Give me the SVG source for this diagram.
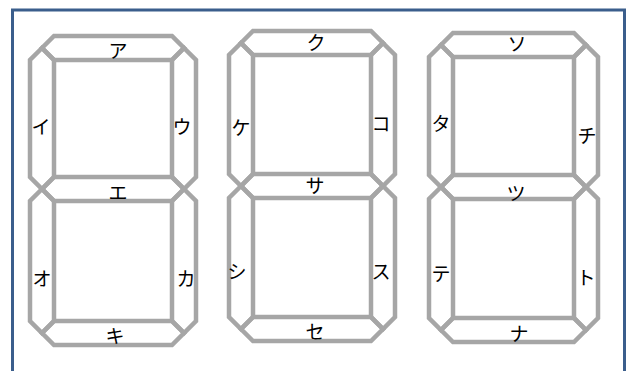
<svg xmlns="http://www.w3.org/2000/svg" width="631" height="371" viewBox="0 0 631 371">
<style>
.seg{fill:none;stroke:#A6A6A6;stroke-width:4.5;stroke-linejoin:miter}
.lbl{font-family:"Noto Sans CJK JP","Noto Sans",sans-serif;font-size:19px;fill:#000;text-anchor:middle;dominant-baseline:central}
.frame{fill:#fff;stroke:#3B5E8C;stroke-width:3}
</style>
<rect x="0" y="0" width="631" height="371" fill="#fff"/>
<rect class="frame" x="12.5" y="10" width="612" height="380"/>
<g id="connectors"></g>
<g id="digit1">
<g id="seg-a1"><polygon class="seg" points="54,36 172,36 184,48 172,60 54,60 42,48"/><text class="lbl" x="118" y="49">ア</text></g>
<g id="seg-f1"><polygon class="seg" points="42,48 30,60 30,177 42,189 54,177 54,60"/><text class="lbl" x="41" y="125">イ</text></g>
<g id="seg-b1"><polygon class="seg" points="184,48 196,60 196,177 184,189 172,177 172,60"/><text class="lbl" x="182" y="125">ウ</text></g>
<g id="seg-g1"><polygon class="seg" points="42,189 54,177 172,177 184,189 172,201 54,201"/><text class="lbl" x="118" y="191">エ</text></g>
<g id="seg-e1"><polygon class="seg" points="42,189 30,201 30,321 42,333 54,321 54,201"/><text class="lbl" x="42" y="277">オ</text></g>
<g id="seg-c1"><polygon class="seg" points="184,189 196,201 196,321 184,333 172,321 172,201"/><text class="lbl" x="186" y="277">カ</text></g>
<g id="seg-d1"><polygon class="seg" points="42,333 54,321 172,321 184,333 172,345 54,345"/><text class="lbl" x="115" y="334">キ</text></g>
</g>
<g id="digit2">
<g id="seg-a2"><polygon class="seg" points="253,31 371,31 383,43 371,55 253,55 241,43"/><text class="lbl" x="316" y="41">ク</text></g>
<g id="seg-f2"><polygon class="seg" points="241,43 229,55 229,174 241,186 253,174 253,55"/><text class="lbl" x="241" y="126">ケ</text></g>
<g id="seg-b2"><polygon class="seg" points="383,43 395,55 395,174 383,186 371,174 371,55"/><text class="lbl" x="381" y="122">コ</text></g>
<g id="seg-g2"><polygon class="seg" points="241,186 253,174 371,174 383,186 371,198 253,198"/><text class="lbl" x="315" y="184">サ</text></g>
<g id="seg-e2"><polygon class="seg" points="241,186 229,198 229,317 241,329 253,317 253,198"/><text class="lbl" x="237" y="270">シ</text></g>
<g id="seg-c2"><polygon class="seg" points="383,186 395,198 395,317 383,329 371,317 371,198"/><text class="lbl" x="381" y="270">ス</text></g>
<g id="seg-d2"><polygon class="seg" points="241,329 253,317 371,317 383,329 371,341 253,341"/><text class="lbl" x="315" y="330">セ</text></g>
</g>
<g id="digit3">
<g id="seg-a3"><polygon class="seg" points="453,33 574,33 586,45 574,57 453,57 441,45"/><text class="lbl" x="517" y="42">ソ</text></g>
<g id="seg-f3"><polygon class="seg" points="441,45 429,57 429,175 441,187 453,175 453,57"/><text class="lbl" x="441" y="122">タ</text></g>
<g id="seg-b3"><polygon class="seg" points="586,45 598,57 598,175 586,187 574,175 574,57"/><text class="lbl" x="587" y="134">チ</text></g>
<g id="seg-g3"><polygon class="seg" points="441,187 453,175 574,175 586,187 574,199 453,199"/><text class="lbl" x="516" y="192">ツ</text></g>
<g id="seg-e3"><polygon class="seg" points="441,187 429,199 429,318 441,330 453,318 453,199"/><text class="lbl" x="441" y="272">テ</text></g>
<g id="seg-c3"><polygon class="seg" points="586,187 598,199 598,318 586,330 574,318 574,199"/><text class="lbl" x="586" y="276">ト</text></g>
<g id="seg-d3"><polygon class="seg" points="441,330 453,318 574,318 586,330 574,342 453,342"/><text class="lbl" x="519" y="332">ナ</text></g>
</g>
</svg>
